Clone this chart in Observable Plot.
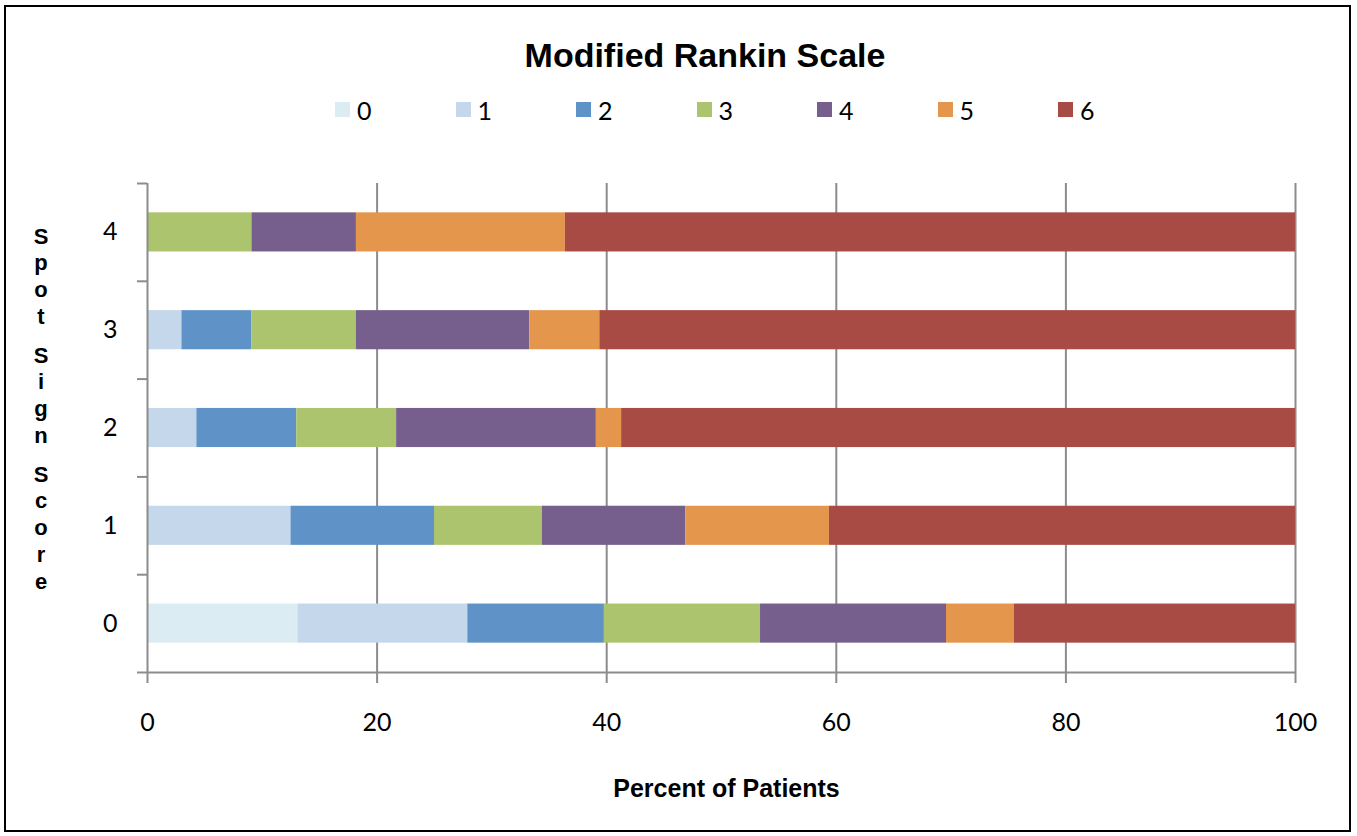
<!DOCTYPE html>
<html>
<head>
<meta charset="utf-8">
<script src="https://cdn.jsdelivr.net/npm/d3@7"></script>
<script src="https://cdn.jsdelivr.net/npm/@observablehq/plot@0.6"></script>
<style>
  html, body { margin: 0; padding: 0; background: #fff; }
  body { width: 1357px; height: 836px; position: relative; overflow: hidden; }
  #frame { position: absolute; left: 4px; top: 5px; width: 1347px; height: 827px; border: 2px solid #000; box-sizing: border-box; z-index: 10; pointer-events: none; }
  #title { position: absolute; left: 0; width: 1410px; top: 35px; text-align: center; font: bold 34px "Liberation Sans", Arial, sans-serif; line-height: 40px; color: #000; }
  .sw { position: absolute; width: 15px; height: 15px; }
  .lt { position: absolute; font: 25px Lato, sans-serif; line-height: 30px; color: #000; }
  #ylab { position: absolute; left: 26px; width: 30px; text-align: center; font: bold 22px "Liberation Sans", Arial, sans-serif; color: #000; }
  #ylab div { height: 26.8px; line-height: 26.8px; }
  #chart { position: absolute; left: 0; top: 150px; }
</style>
</head>
<body>
<div id="frame"></div>
<div id="title">Modified Rankin Scale</div>
<div id="legend"></div>
<div id="ylab"></div>
<div id="chart"></div>
<script>
// Spot sign score categories (rows) and Modified Rankin Scale levels (segments)
const scores = [0, 1, 2, 3, 4];
const mrsLevels = ["0", "1", "2", "3", "4", "5", "6"];
const mrsColors = ["#dcecf3", "#c5d7eb", "#5f93c7", "#abc46d", "#765f8d", "#e4964c", "#a84b44"];

// Percent of patients per mRS level, for each spot sign score
const score0 = [13.1, 14.8, 11.9, 13.6, 16.2, 5.9, 24.5];
const score1 = [0, 12.5, 12.5, 9.4, 12.5, 12.5, 40.6];
const score2 = [0, 4.3, 8.7, 8.7, 17.4, 2.2, 58.7];
const score3 = [0, 3.0, 6.1, 9.1, 15.1, 6.1, 60.6];
const score4 = [0, 0, 0, 9.1, 9.1, 18.2, 63.6];

const xTicks = [0, 20, 40, 60, 80, 100];
const yLabel = "Spot Sign Score";
const xLabel = "Percent of Patients";

const rows = [score0, score1, score2, score3, score4];
const table = [];
rows.forEach((vals, si) => {
  let acc = 0;
  vals.forEach((v, mi) => {
    if (v > 0) table.push({score: scores[si], mrs: mrsLevels[mi], x1: acc, x2: acc + v, y1: scores[si] - 0.2, y2: scores[si] + 0.2});
    acc += v;
  });
});

const grey = "#8c8c8c";
const chart = Plot.plot({
  width: 1357,
  height: 686,
  marginLeft: 147,
  marginRight: 62,
  marginTop: 33,
  marginBottom: 164,
  style: {background: "transparent", overflow: "visible"},
  x: {domain: [0, 100]},
  y: {domain: [-0.5, 4.5]},
  color: {domain: mrsLevels, range: mrsColors},
  marks: [
    Plot.ruleX(xTicks.filter(d => d > 0), {stroke: grey, strokeWidth: 2}),
    Plot.rectX(table, {x1: "x1", x2: "x2", y1: "y1", y2: "y2", fill: "mrs"}),
    Plot.ruleX([0], {stroke: grey, strokeWidth: 2}),
    Plot.ruleY([-0.5], {stroke: grey, strokeWidth: 2}),
    Plot.axisX(xTicks, {tickSize: 11, tickPadding: 30, stroke: grey, strokeWidth: 2, fontSize: 25, fontFamily: "Lato", label: null, tickFormat: d => String(d)}),
    Plot.axisY([-0.5, 0.5, 1.5, 2.5, 3.5, 4.5], {tickSize: 10, stroke: grey, strokeWidth: 2, tickFormat: () => "", label: null}),
    Plot.axisY(scores, {tickSize: 0, tickPadding: 30, fontSize: 25, fontFamily: "Lato", label: null, tickFormat: d => String(d)}),
    Plot.text([xLabel], {frameAnchor: "bottom", dy: 124, dx: 5, fontSize: 25, fontWeight: "bold", fontFamily: "Liberation Sans", fill: "#000"})
  ]
});
document.getElementById("chart").appendChild(chart);

// Legend
const legend = document.getElementById("legend");
mrsLevels.forEach((m, i) => {
  const sw = document.createElement("div");
  sw.className = "sw";
  sw.style.left = (335 + 120.5 * i) + "px";
  sw.style.top = "102px";
  sw.style.background = mrsColors[i];
  legend.appendChild(sw);
  const t = document.createElement("div");
  t.className = "lt";
  t.style.left = (357 + 120.5 * i) + "px";
  t.style.top = "95px";
  t.textContent = m;
  legend.appendChild(t);
});

// Stacked vertical y label
const ylab = document.getElementById("ylab");
ylab.style.top = (237 - 13.4) + "px";
let extra = 0;
for (const ch of yLabel) {
  if (ch === " ") { extra = 11.8; continue; }
  const d = document.createElement("div");
  d.textContent = ch;
  d.style.marginTop = extra + "px";
  extra = 0;
  ylab.appendChild(d);
}
</script>
</body>
</html>
